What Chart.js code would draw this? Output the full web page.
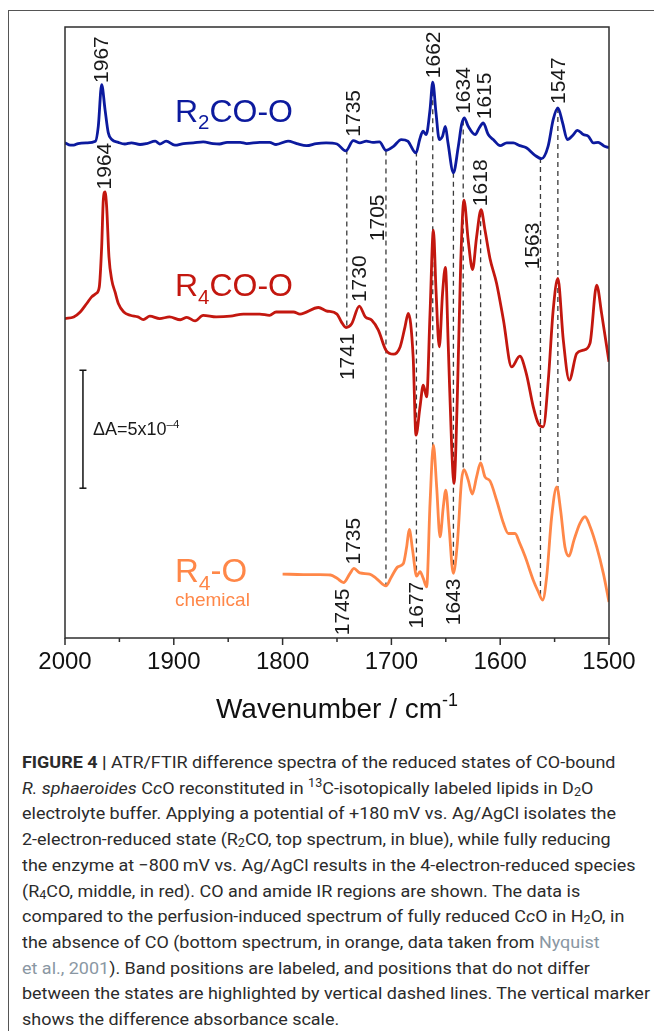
<!DOCTYPE html>
<html>
<head>
<meta charset="utf-8">
<script src="https://cdn.jsdelivr.net/npm/chart.js@4.4.1/dist/chart.umd.min.js"></script>
<style>
  html, body { margin: 0; padding: 0; background: #fff; }
  #page { position: relative; width: 654px; height: 1031px; overflow: hidden; }
  #frame { position: absolute; left: 8px; top: 10px; right: 0; bottom: 0;
           border-top: 1.5px solid #555; border-left: 1.5px solid #555; }
  #chart { position: absolute; left: 0; top: 0; }
  #caption { position: absolute; left: 22px; top: 750px; font-family: Roboto, "Liberation Sans", sans-serif;
             font-size: 17px; line-height: 25.7px; color: #2b2b2b; white-space: nowrap; transform-origin: 0 0; }
  #caption span.ln { display: inline-block; }
  #caption sub, #caption sup { font-size: 0.7em; line-height: 0; }
  #caption sub { vertical-align: -0.2em; }
  #caption sup { vertical-align: 0.55em; }
  #caption .ref { color: #8a97a3; }
</style>
</head>
<body>
<div id="page">
  <div id="frame"></div>
  <canvas id="chart" width="654" height="740"></canvas>
  <div id="caption">
    <span class="ln"><b>FIGURE 4 |</b> ATR/FTIR difference spectra of the reduced states of CO-bound</span><br>
    <span class="ln"><i>R. sphaeroides</i> C<i>c</i>O reconstituted in <sup>13</sup>C-isotopically labeled lipids in D<sub>2</sub>O</span><br>
    <span class="ln">electrolyte buffer. Applying a potential of +180&#8201;mV vs. Ag/AgCl isolates the</span><br>
    <span class="ln">2-electron-reduced state (R<sub>2</sub>CO, top spectrum, in blue), while fully reducing</span><br>
    <span class="ln">the enzyme at &minus;800&#8201;mV vs. Ag/AgCl results in the 4-electron-reduced species</span><br>
    <span class="ln">(R<sub>4</sub>CO, middle, in red). CO and amide IR regions are shown. The data is</span><br>
    <span class="ln">compared to the perfusion-induced spectrum of fully reduced C<i>c</i>O in H<sub>2</sub>O, in</span><br>
    <span class="ln">the absence of CO (bottom spectrum, in orange, data taken from <span class="ref">Nyquist</span></span><br>
    <span class="ln"><span class="ref">et al., 2001</span>). Band positions are labeled, and positions that do not differ</span><br>
    <span class="ln">between the states are highlighted by vertical dashed lines. The vertical marker</span><br>
    <span class="ln">shows the difference absorbance scale.</span>
  </div>
</div>
<script>
// spectra, ΔA in units of 1e-4
const blueWn = [2000,1995,1992,1988,1980,1972,1969.4,1966.3,1963.2,1960.2,1957,1951,1945,1939,1931,1925,1917,1913,1907,1899,1891,1882,1873,1864,1858,1851,1839,1833,1821,1812,1806,1795,1787,1778,1769,1760,1750,1742,1735,1729,1723,1717,1711,1705,1698,1691,1685,1677.4,1674,1671,1668,1664.5,1662,1659,1656,1653,1650.4,1648,1643,1638.5,1635.5,1633,1629.4,1623,1619.3,1615.6,1611,1606.4,1600,1594,1588,1582,1576,1568,1562,1556,1551.3,1547,1542.6,1538.3,1533.4,1529,1523.6,1519,1514.4,1510,1505,1500];
const blueDA = [-0.01,-0.11,-0.11,-0.04,-0.01,0.06,0.69,2.46,1.40,0.41,0.13,0.01,-0.06,-0.01,-0.08,-0.04,0.06,-0.06,0.06,-0.11,-0.04,-0.01,0.03,-0.04,-0.06,0.01,0.01,-0.04,0.01,0.01,-0.08,0.06,-0.04,-0.13,-0.04,-0.01,-0.06,-0.35,0.08,-0.01,0.06,0.01,0.03,-0.33,-0.16,0.13,0.06,-0.44,0.13,0.48,0.34,1.40,2.56,1.26,0.13,0.27,0.69,-0.01,-1.28,-0.16,0.76,1.05,0.69,0.34,0.62,0.83,0.34,0.13,-0.13,-0.01,-0.01,-0.13,-0.22,-0.54,-0.68,-0.16,0.97,1.47,0.83,0.13,0.30,0.52,0.34,0.27,-0.01,0.01,-0.13,-0.22];

const redWn = [2000,1992,1986,1980,1975.5,1971.5,1968.5,1966.3,1964.8,1963.2,1961.7,1959.6,1957,1954,1951,1946,1940,1933,1928,1922,1913,1904,1894,1888,1880.5,1873,1861,1848,1836,1821,1812,1806,1790,1784,1767,1760,1750,1746,1741.7,1736.5,1729.5,1724,1718,1712,1705,1698,1692,1687.5,1684.5,1680,1677.4,1673.7,1670.7,1667.6,1664.5,1661.4,1659,1656,1653,1650.4,1647.7,1644.6,1642.5,1639.4,1636.3,1633.3,1629.4,1625.4,1621.7,1617.6,1614,1609.4,1603.3,1597,1589.5,1582,1576,1569.6,1565,1560.4,1555.8,1551.3,1547,1542,1536.5,1529.7,1523.6,1517.5,1511.3,1506.8,1500];
const redDA = [-0.06,0.01,0.22,0.58,0.86,1.00,1.28,2.98,4.96,5.31,4.67,2.56,1.57,1.07,0.58,0.22,0.08,0.01,-0.10,0.04,-0.06,0.01,-0.11,-0.01,-0.16,0.08,0.01,0.04,0.13,0.13,0.08,0.22,0.22,0.13,0.41,0.27,0.13,-0.20,-0.44,-0.28,0.47,0.01,-0.13,-0.55,-1.40,-1.57,-1.26,-0.41,0.16,-1.69,-5.00,-3.80,-2.88,-3.38,0.16,3.69,1.14,-1.26,1.00,2.11,-1.26,-5.50,-7.05,-3.38,2.28,4.96,3.26,2.02,3.40,4.56,3.69,2.49,1.43,-0.13,-2.11,-1.65,-2.39,-3.80,-4.50,-4.65,-2.67,0.30,1.64,-0.97,-2.67,-1.54,-1.40,-1.11,1.36,0.16,-1.89];

const orangeWn = [1800,1781,1766,1756,1750,1744,1738,1734.4,1729,1720,1714,1705,1700,1694,1689,1686,1683.6,1680.5,1676.8,1673.7,1670.7,1667.6,1664.5,1661.4,1658.4,1655.3,1652.3,1650,1647,1643.1,1639.4,1635.5,1633.3,1629.4,1625.7,1621.7,1618,1614,1609.4,1603.3,1597,1592.5,1586.4,1582,1577,1569.6,1565,1561,1557.3,1552.7,1548,1544.5,1540.5,1536.8,1532.2,1526.7,1522,1517.5,1511.3,1505.2,1500];
const orangeDA = [-0.04,-0.06,-0.06,-0.08,-0.22,-0.40,-0.01,0.20,0.01,-0.04,-0.22,-0.54,-0.16,0.27,0.41,1.11,1.85,0.97,-0.13,0.06,-0.22,-0.58,2.95,5.42,3.66,1.54,2.81,3.52,1.96,-0.01,1.26,3.94,4.39,3.94,3.35,4.08,4.67,4.08,3.91,3.09,2.11,1.68,1.68,1.26,0.69,-0.30,-0.79,-1.14,-0.16,2.39,3.66,2.67,1.11,0.72,1.40,2.11,2.39,1.99,1.11,-0.01,-1.22];

// vertical stacking offsets (blue, red, orange)
const offsets = [21.0, 13.6, 2.75];

// band labels: [text, spectrum, side]
const bandLabels = [
  ['1967','blue','up'], ['1735','blue','up'], ['1662','blue','up'], ['1634','blue','up'], ['1615','blue','up'], ['1547','blue','up'],
  ['1964','red','up'], ['1730','red','up'], ['1705','red','up'], ['1741','red','down'], ['1618','red','up'], ['1563','red','up'],
  ['1735','orange','up'], ['1745','orange','down'], ['1677','orange','down'], ['1643','orange','down']
];
// dashed guides: [wavenumber, from spectrum, to spectrum]
const guides = [
  [1741,'blue','red'], [1705,'blue','orange'], [1677,'blue','orange'], [1662,'blue','orange'], [1643,'blue','orange'],
  [1634,'blue','orange'], [1618,'red','orange'], [1563,'blue','orange'], [1547,'blue','orange']
];
const scaleBarWn = [1983.5, 1983.5];
const scaleBarY = [6.35, 11.35];

const FONT = '"Liberation Sans", Arial, sans-serif';
const spectra = {
  blue:   { wn: blueWn,   da: blueDA,   off: offsets[0], color: '#0c1a9e', name: [['R',0],['2',1],['CO-O',0]] },
  red:    { wn: redWn,    da: redDA,    off: offsets[1], color: '#c3170f', name: [['R',0],['4',1],['CO-O',0]] },
  orange: { wn: orangeWn, da: orangeDA, off: offsets[2], color: '#ff8748', name: [['R',0],['4',1],['-O',0]] }
};
// label placement tweaks where the band label sits away from its band
const labelPlace = { 'red 1705': { wn: 1713, at: 3.05 }, 'red 1563': { wn: 1571, at: 1.86 } };

function valAt(s, w) {
  const wn = s.wn, v = s.da;
  if (w >= wn[0]) return v[0];
  for (let i = 1; i < wn.length; i++) {
    if (w >= wn[i]) {
      const t = (wn[i - 1] - w) / (wn[i - 1] - wn[i]);
      return v[i - 1] + t * (v[i] - v[i - 1]);
    }
  }
  return v[v.length - 1];
}

const datasets = [];
for (const k of ['blue', 'red', 'orange']) {
  const s = spectra[k];
  datasets.push({
    data: s.wn.map((w, i) => ({ x: w, y: s.da[i] + s.off })),
    borderColor: s.color, borderWidth: 2.8, pointRadius: 0,
    cubicInterpolationMode: 'monotone', order: 0
  });
}
for (const g of guides) {
  const a = spectra[g[1]], b = spectra[g[2]];
  datasets.push({
    data: [{ x: g[0], y: valAt(a, g[0]) + a.off }, { x: g[0], y: valAt(b, g[0]) + b.off }],
    borderColor: '#3a3a3a', borderWidth: 1.3, borderDash: [5, 4], pointRadius: 0, order: 2
  });
}
datasets.push({
  data: scaleBarWn.map((w, i) => ({ x: w, y: scaleBarY[i] })),
  borderColor: '#111', borderWidth: 1.5, pointStyle: 'line', pointRadius: 3.5,
  pointBorderWidth: 1.5, pointBorderColor: '#111', order: 1
});

function rich(ctx, parts, x, y, size, color) {
  ctx.fillStyle = color;
  ctx.textAlign = 'left'; ctx.textBaseline = 'alphabetic';
  for (const [t, mode] of parts) {
    const fs = mode ? size * 0.64 : size;
    const dy = mode === 1 ? size * 0.24 : (mode === -1 ? -size * 0.42 : 0);
    ctx.font = fs + 'px ' + FONT;
    ctx.fillText(t, x, y + dy);
    x += ctx.measureText(t).width;
  }
  return x;
}
function textWidth(ctx, parts, size) {
  let w = 0;
  for (const [t, mode] of parts) {
    ctx.font = (mode ? size * 0.64 : size) + 'px ' + FONT;
    w += ctx.measureText(t).width;
  }
  return w;
}

const deco = {
  id: 'deco',
  afterDatasetsDraw(chart) {
    const { ctx, chartArea: a, scales: { x, y } } = chart;
    ctx.save();
    // frame of the plot
    ctx.strokeStyle = '#2e2e2e'; ctx.lineWidth = 1.5;
    ctx.strokeRect(a.left, a.top, a.right - a.left, a.bottom - a.top);
    // major and minor ticks
    for (let w = 1500; w <= 2000; w += 50) {
      const px = x.getPixelForValue(w);
      ctx.beginPath(); ctx.moveTo(px, a.bottom); ctx.lineTo(px, a.bottom + (w % 100 ? 4 : 7)); ctx.stroke();
    }
    // axis title
    const tParts = [['Wavenumber / cm', 0], ['-1', -1]];
    const tw = textWidth(ctx, tParts, 28);
    rich(ctx, tParts, (a.left + a.right) / 2 - tw / 2, 718, 28, '#111');

    // band labels
    ctx.font = '21px ' + FONT; ctx.fillStyle = '#1a1a1a';
    for (const [t, k, side] of bandLabels) {
      const s = spectra[k];
      const pl = labelPlace[k + ' ' + t] || {};
      const w = pl.wn || +t;
      let v;
      if (pl.at !== undefined) v = pl.at;
      else {
        v = valAt(s, w);
        for (let d = -2.5; d <= 2.5; d += 0.5) {
          const q = valAt(s, w + d);
          v = side === 'up' ? Math.max(v, q) : Math.min(v, q);
        }
      }
      const px = x.getPixelForValue(w);
      const py = y.getPixelForValue(v + s.off) + (side === 'up' ? -4 : 6);
      ctx.save();
      ctx.translate(px, py); ctx.rotate(-Math.PI / 2);
      ctx.textAlign = side === 'up' ? 'left' : 'right'; ctx.textBaseline = 'middle';
      ctx.fillText(t, 0, 1);
      ctx.restore();
    }

    // spectrum names
    const nx = x.getPixelForValue(1899);
    rich(ctx, spectra.blue.name, nx, y.getPixelForValue(spectra.blue.off) - 21, 32, spectra.blue.color);
    rich(ctx, spectra.red.name, nx, y.getPixelForValue(spectra.red.off) - 21, 32, spectra.red.color);
    rich(ctx, spectra.orange.name, nx, y.getPixelForValue(spectra.orange.off) + 9, 33, spectra.orange.color);
    ctx.font = '19px ' + FONT; ctx.fillStyle = spectra.orange.color;
    ctx.fillText('chemical', nx, y.getPixelForValue(spectra.orange.off) + 33);

    // scale bar text
    const bx = x.getPixelForValue(scaleBarWn[0]);
    const by = (y.getPixelForValue(scaleBarY[0]) + y.getPixelForValue(scaleBarY[1])) / 2;
    rich(ctx, [['\u0394A=5x10', 0], ['\u20134', -1]], bx + 10, by + 6, 18, '#1a1a1a');
    ctx.restore();
  }
};

Chart.defaults.font.family = FONT;
new Chart(document.getElementById('chart'), {
  type: 'line',
  data: { datasets: datasets },
  options: {
    responsive: false,
    animation: false,
    layout: { padding: { left: 65, right: 45, top: 27, bottom: 0 } },
    plugins: { legend: { display: false }, tooltip: { enabled: false } },
    scales: {
      x: {
        type: 'linear', reverse: true, min: 1500, max: 2000, position: 'bottom',
        ticks: { stepSize: 100, autoSkip: false, maxRotation: 0, padding: 3, color: '#111', font: { size: 24 },
                 callback: v => String(v) },
        grid: { display: true, drawOnChartArea: false, drawTicks: true, tickLength: 7, tickColor: 'rgba(0,0,0,0)' },
        border: { display: false },
        afterFit: s => { s.height = 102; }
      },
      y: { type: 'linear', display: false, min: 0, max: 25.9 }
    }
  },
  plugins: [deco]
});

// fit the caption width to the figure
const cap = document.getElementById('caption');
let lw = 0;
for (const el of cap.querySelectorAll('span.ln')) lw = Math.max(lw, el.getBoundingClientRect().width);
const f = Math.min(1.2, Math.max(0.75, 628 / lw));
cap.style.transform = 'scaleX(' + f + ')';
</script>
</body>
</html>
